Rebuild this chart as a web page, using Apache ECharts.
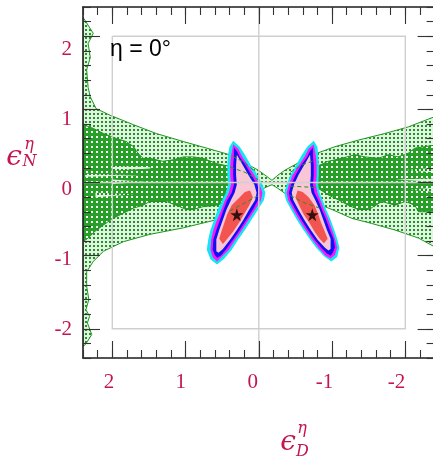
<!DOCTYPE html>
<html>
<head>
<meta charset="utf-8">
<script src="https://cdn.jsdelivr.net/npm/echarts@6/dist/echarts.min.js"></script>
<style>
  html, body { margin: 0; padding: 0; background: #ffffff; }
  #chart { width: 433px; height: 459px; }
</style>
</head>
<body>
<div id="chart"></div>
<script>
// ---- axes ----
const axisRange = [-2.4, 2.4];
const tickValues = [-2, -1, 0, 1, 2];
const panelLabel = 'η = 0°';

// ---- allowed regions (epsilon_D, epsilon_N) ----
// wide band, lighter shading
const outerBand = [
  [2.4, 2.26], [2.26, 2.04], [2.33, 1.90], [2.30, 1.71], [2.35, 1.54], [2.33, 1.30], [2.30, 1.17],
  [2.22, 1.01], [2.03, 0.92], [1.71, 0.79], [1.40, 0.67], [1.03, 0.56], [0.71, 0.47], [0.40, 0.38],
  [0.19, 0.27], [0.01, 0.17], [-0.10, 0.09], [-0.18, 0.03], [-0.26, 0.10], [-0.36, 0.17], [-0.56, 0.28],
  [-0.74, 0.38], [-1.04, 0.49], [-1.36, 0.58], [-1.72, 0.67], [-2.04, 0.76], [-2.4, 0.90],
  [-2.4, -0.88], [-2.18, -0.76], [-1.86, -0.65], [-1.54, -0.56], [-1.27, -0.49], [-1.00, -0.37],
  [-0.77, -0.28], [-0.56, -0.20], [-0.36, -0.15], [-0.26, -0.08], [-0.18, -0.03], [-0.11, -0.06],
  [0.01, -0.12], [0.19, -0.24], [0.40, -0.43], [0.58, -0.51], [1.03, -0.62], [1.49, -0.71],
  [1.85, -0.81], [2.12, -0.94], [2.26, -1.08], [2.35, -1.22], [2.35, -1.42], [2.32, -1.60],
  [2.36, -1.74], [2.31, -1.83], [2.34, -1.92], [2.28, -2.08], [2.37, -2.22], [2.4, -2.24]
];
// narrow band, darker shading
const coreBandLeft = [
  [2.4, 0.79], [2.26, 0.74], [2.12, 0.67], [1.94, 0.60], [1.81, 0.56], [1.71, 0.49], [1.65, 0.40],
  [1.58, 0.33], [1.49, 0.33], [1.31, 0.29], [1.17, 0.31], [1.03, 0.35], [0.90, 0.35], [0.76, 0.33],
  [0.58, 0.26], [0.40, 0.22], [0.26, 0.14], [0.23, -0.03], [0.26, -0.21], [0.40, -0.26], [0.58, -0.31],
  [0.76, -0.33], [0.90, -0.37], [0.99, -0.37], [1.08, -0.33], [1.26, -0.26], [1.49, -0.26],
  [1.58, -0.31], [1.71, -0.35], [1.85, -0.42], [1.99, -0.49], [2.12, -0.58], [2.24, -0.67],
  [2.33, -0.76], [2.4, -0.81]
];
const coreBandRight = [
  [-0.63, 0.14], [-0.79, 0.22], [-0.95, 0.29], [-1.13, 0.33], [-1.31, 0.38], [-1.45, 0.35],
  [-1.63, 0.33], [-1.77, 0.38], [-1.90, 0.35], [-2.04, 0.40], [-2.13, 0.47], [-2.27, 0.49],
  [-2.4, 0.51], [-2.4, -0.40], [-2.27, -0.40], [-2.18, -0.40], [-2.13, -0.31], [-2.00, -0.26],
  [-1.86, -0.31], [-1.68, -0.26], [-1.50, -0.37], [-1.36, -0.37], [-1.22, -0.31], [-1.09, -0.24],
  [-0.95, -0.17], [-0.81, -0.08], [-0.63, -0.03]
];
// thin slivers of the wide band cutting into the narrow one
const coreGaps = [
  [[2.00, 0.23], [1.48, 0.21], [1.48, 0.19], [2.00, 0.16]],
  [[2.37, 0.12], [1.62, 0.10], [2.37, 0.08]],
  [[2.00, 0.04], [1.55, 0.01], [2.00, -0.02]],
  [[2.23, -0.14], [1.69, -0.16], [2.23, -0.20]],
  [[-2.4, 0.20], [-2.00, 0.17], [-2.4, 0.14]],
  [[-2.4, 0.06], [-1.86, 0.04], [-2.4, 0.01]],
  [[-2.4, -0.07], [-2.06, -0.10], [-2.4, -0.13]]
];

// ---- fit contours, left solution ----
const leftCyan = [[0.35,0.57],[0.26,0.49],[0.19,0.38],[0.11,0.24],[0.02,0.10],[-0.05,-0.03],[-0.09,-0.14],[-0.07,-0.24],[0.01,-0.37],[0.10,-0.51],[0.19,-0.65],[0.28,-0.78],[0.37,-0.92],[0.47,-1.04],[0.57,-1.12],[0.66,-1.05],[0.71,-0.92],[0.69,-0.78],[0.66,-0.65],[0.61,-0.51],[0.56,-0.37],[0.50,-0.24],[0.45,-0.14],[0.42,-0.03],[0.43,0.10],[0.43,0.24],[0.42,0.38],[0.40,0.49]];
const leftMagenta = [[0.35,0.52],[0.28,0.46],[0.23,0.36],[0.15,0.24],[0.06,0.10],[-0.01,-0.03],[-0.05,-0.14],[-0.03,-0.24],[0.05,-0.37],[0.14,-0.51],[0.23,-0.65],[0.32,-0.78],[0.41,-0.92],[0.51,-1.02],[0.57,-1.08],[0.63,-1.02],[0.66,-0.92],[0.65,-0.78],[0.62,-0.65],[0.57,-0.51],[0.51,-0.37],[0.46,-0.24],[0.41,-0.14],[0.38,-0.03],[0.39,0.10],[0.39,0.24],[0.38,0.36],[0.36,0.46]];
const leftBlue = [[0.34,0.48],[0.30,0.43],[0.26,0.35],[0.18,0.24],[0.10,0.10],[0.02,-0.03],[-0.01,-0.14],[0.01,-0.24],[0.08,-0.37],[0.17,-0.51],[0.26,-0.65],[0.35,-0.78],[0.45,-0.92],[0.52,-1.00],[0.57,-1.03],[0.60,-0.99],[0.63,-0.92],[0.62,-0.78],[0.58,-0.65],[0.53,-0.51],[0.48,-0.37],[0.43,-0.24],[0.37,-0.14],[0.34,-0.03],[0.35,0.10],[0.35,0.24],[0.34,0.35],[0.34,0.43]];
const leftPink = [[0.30,0.38],[0.22,0.24],[0.14,0.10],[0.06,-0.03],[0.03,-0.14],[0.05,-0.24],[0.13,-0.37],[0.21,-0.51],[0.30,-0.65],[0.39,-0.78],[0.49,-0.91],[0.55,-0.96],[0.58,-0.94],[0.58,-0.78],[0.54,-0.65],[0.49,-0.51],[0.44,-0.37],[0.38,-0.24],[0.33,-0.14],[0.30,-0.03],[0.31,0.10],[0.31,0.24]];
const leftRed = [[0.12,-0.11],[0.08,-0.20],[0.13,-0.31],[0.20,-0.43],[0.27,-0.55],[0.35,-0.67],[0.43,-0.77],[0.49,-0.84],[0.54,-0.77],[0.51,-0.67],[0.47,-0.55],[0.43,-0.43],[0.37,-0.31],[0.26,-0.20],[0.19,-0.13]];

// ---- fit contours, right solution ----
const rightCyan = [[-0.75,0.57],[-0.66,0.49],[-0.59,0.38],[-0.51,0.24],[-0.43,0.10],[-0.38,-0.03],[-0.35,-0.14],[-0.37,-0.24],[-0.44,-0.37],[-0.52,-0.51],[-0.61,-0.65],[-0.70,-0.78],[-0.79,-0.90],[-0.89,-1.01],[-0.99,-1.08],[-1.07,-1.02],[-1.10,-0.89],[-1.07,-0.77],[-1.03,-0.65],[-0.98,-0.51],[-0.92,-0.37],[-0.87,-0.24],[-0.83,-0.14],[-0.81,-0.03],[-0.82,0.10],[-0.82,0.24],[-0.81,0.38],[-0.80,0.49]];
const rightMagenta = [[-0.75,0.52],[-0.68,0.46],[-0.63,0.36],[-0.55,0.24],[-0.46,0.10],[-0.41,-0.03],[-0.38,-0.14],[-0.40,-0.24],[-0.47,-0.37],[-0.55,-0.51],[-0.64,-0.65],[-0.73,-0.78],[-0.82,-0.90],[-0.91,-1.00],[-0.98,-1.04],[-1.04,-0.99],[-1.07,-0.89],[-1.04,-0.77],[-1.00,-0.65],[-0.95,-0.51],[-0.89,-0.37],[-0.84,-0.24],[-0.80,-0.14],[-0.78,-0.03],[-0.79,0.10],[-0.79,0.24],[-0.78,0.36],[-0.76,0.46]];
const rightBlue = [[-0.74,0.48],[-0.70,0.43],[-0.66,0.35],[-0.58,0.24],[-0.50,0.10],[-0.44,-0.03],[-0.41,-0.14],[-0.43,-0.24],[-0.50,-0.37],[-0.58,-0.51],[-0.67,-0.65],[-0.76,-0.78],[-0.86,-0.90],[-0.93,-0.97],[-0.98,-1.00],[-1.01,-0.96],[-1.04,-0.89],[-1.02,-0.77],[-0.97,-0.65],[-0.92,-0.51],[-0.86,-0.37],[-0.81,-0.24],[-0.76,-0.14],[-0.74,-0.03],[-0.75,0.10],[-0.75,0.24],[-0.74,0.35],[-0.74,0.43]];
const rightPink = [[-0.70,0.38],[-0.62,0.24],[-0.54,0.10],[-0.48,-0.03],[-0.45,-0.14],[-0.47,-0.24],[-0.54,-0.37],[-0.62,-0.51],[-0.71,-0.65],[-0.80,-0.78],[-0.90,-0.89],[-0.95,-0.93],[-0.98,-0.91],[-0.98,-0.77],[-0.93,-0.65],[-0.88,-0.51],[-0.83,-0.37],[-0.77,-0.24],[-0.72,-0.14],[-0.70,-0.03],[-0.71,0.10],[-0.71,0.24]];
const rightRed = [[-0.53,-0.11],[-0.50,-0.20],[-0.55,-0.31],[-0.61,-0.43],[-0.69,-0.55],[-0.76,-0.67],[-0.83,-0.77],[-0.89,-0.83],[-0.94,-0.77],[-0.90,-0.67],[-0.85,-0.55],[-0.81,-0.43],[-0.76,-0.31],[-0.68,-0.20],[-0.60,-0.13]];

// band edges continuing across the fit contours (dashed)
const hiddenEdges = [
  [[0.36, 0.36], [0.19, 0.27], [0.04, 0.14]],
  [[0.39, 0.21], [0.19, 0.14], [0.01, 0.04]],
  [[0.01, -0.18], [0.19, -0.28], [0.42, -0.40]],
  [[-0.43, 0.14], [-0.59, 0.24], [-0.78, 0.31]],
  [[-0.43, -0.05], [-0.63, -0.06], [-0.81, -0.07]],
  [[-0.43, -0.18], [-0.63, -0.28], [-0.86, -0.36]]
];

// best-fit points
const bestFit = [[0.30, -0.44], [-0.73, -0.44]];

// reference frame
const refBox = [[2, 2], [-2, 2], [-2, -2], [2, -2], [2, 2]];
const zeroD = [[0, -2.4], [0, 2.4]];
const zeroN = [[-2.4, 0], [2.4, 0]];

// ---- styling ----
const labelColor = '#c4154f';
const green = '#1f961f';

function tile(size, bg, dotColor, dot) {
  const c = document.createElement('canvas');
  c.width = size; c.height = size;
  const g = c.getContext('2d');
  if (bg) { g.fillStyle = bg; g.fillRect(0, 0, size, size); }
  g.fillStyle = dotColor;
  g.fillRect(1, 1, dot, dot);
  return c;
}
const lightFill = { image: tile(4, 'rgba(40,160,40,0.13)', green, 2), repeat: 'repeat' };
const lightFillOpaque = { image: tile(4, '#e2f1e2', green, 2), repeat: 'repeat' };
const darkFill = { image: tile(5, '#26a026', '#ffffff', 2), repeat: 'repeat' };

let zCounter = 1;
function polygonSeries(pts, style) {
  return {
    type: 'custom', coordinateSystem: 'cartesian2d', xAxisIndex: 0, yAxisIndex: 0,
    clip: true, silent: true, z: zCounter++, animation: false,
    data: [pts[0]],
    renderItem: (params, api) => ({
      type: 'polygon',
      shape: { points: pts.map(p => api.coord(p)) },
      style: style
    })
  };
}
function polylineSeries(pts, style) {
  return {
    type: 'custom', coordinateSystem: 'cartesian2d', xAxisIndex: 0, yAxisIndex: 0,
    clip: true, silent: true, z: zCounter++, animation: false,
    data: [pts[0]],
    renderItem: (params, api) => ({
      type: 'polyline',
      shape: { points: pts.map(p => api.coord(p)) },
      style: Object.assign({ fill: null }, style)
    })
  };
}

const series = [];
series.push(polygonSeries(outerBand, { fill: lightFill, stroke: green, lineWidth: 1 }));
series.push(polygonSeries(coreBandLeft, { fill: darkFill, stroke: green, lineWidth: 1 }));
series.push(polygonSeries(coreBandRight, { fill: darkFill, stroke: green, lineWidth: 1 }));
coreGaps.forEach(g => series.push(polygonSeries(g, { fill: lightFillOpaque, stroke: null })));

const layerColors = ['#11e6f2', '#ff14ff', '#1010f5', '#f9c6d6', '#f2544f'];
[leftCyan, leftMagenta, leftBlue, leftPink, leftRed].forEach((p, i) =>
  series.push(polygonSeries(p, { fill: layerColors[i], stroke: null })));
[rightCyan, rightMagenta, rightBlue, rightPink, rightRed].forEach((p, i) =>
  series.push(polygonSeries(p, { fill: layerColors[i], stroke: null })));

hiddenEdges.forEach(e => series.push(polylineSeries(e, { stroke: green, lineWidth: 1, lineDash: [4, 3] })));

const frameStyle = { stroke: '#cfcfcf', lineWidth: 1.4 };
series.push(polylineSeries(refBox, frameStyle));
series.push(polylineSeries(zeroD, frameStyle));
series.push(polylineSeries(zeroN, frameStyle));

series.push({
  type: 'scatter', xAxisIndex: 0, yAxisIndex: 0, z: 60, silent: true, animation: false,
  symbol: 'path://M50,0 L61,35 L98,35 L68,57 L79,91 L50,70 L21,91 L32,57 L2,35 L39,35 Z',
  symbolSize: 13,
  itemStyle: { color: '#000000' },
  data: bestFit
});

// ---- axes ----
const lineCol = '#1c1c1c';
function frameAxis(position, inverse, major) {
  const ax = {
    type: 'value', position, min: axisRange[0], max: axisRange[1], inverse, z: 50,
    axisLine: { show: major, onZero: false, lineStyle: { color: lineCol, width: 1.6 } },
    axisTick: { show: true, inside: true, length: major ? 17 : 8, lineStyle: { color: '#333333', width: 1.1 } },
    axisLabel: { show: false },
    splitLine: { show: false }
  };
  if (major) { ax.axisTick.customValues = tickValues; ax.splitNumber = 5; }
  else { ax.interval = 0.2; }
  return ax;
}
function labelAxis(position, min, max, inverse, margin) {
  return {
    type: 'value', position, min, max, inverse, z: 50,
    axisLine: { show: false }, axisTick: { show: false }, splitLine: { show: false },
    axisLabel: {
      show: true, customValues: tickValues, margin,
      color: labelColor, fontFamily: 'Liberation Serif', fontSize: 21,
      showMinLabel: true, showMaxLabel: true
    }
  };
}

const nameFont = 'italic 28px "DejaVu Serif"';
const scriptFont = 'italic 16px "DejaVu Serif"';
function mathText(x, y, text, font) {
  return { type: 'text', x, y, z: 100, silent: true,
    style: { text, font, fill: labelColor, textAlign: 'center', textVerticalAlign: 'middle', align: 'center', verticalAlign: 'middle' } };
}

const chart = echarts.init(document.getElementById('chart'), null, { renderer: 'canvas' });
chart.setOption({
  animation: false,
  backgroundColor: '#ffffff',
  grid: { left: 83, top: 7, width: 351.6, height: 351, containLabel: false, outerBoundsMode: 'none' },
  xAxis: [
    frameAxis('bottom', true, true),
    frameAxis('bottom', true, false),
    frameAxis('top', true, true),
    frameAxis('top', true, false),
    labelAxis('bottom', -2.53, 2.36, true, 14)
  ],
  yAxis: [
    frameAxis('left', false, true),
    frameAxis('left', false, false),
    frameAxis('right', false, true),
    frameAxis('right', false, false),
    labelAxis('left', -2.40, 2.60, false, 11)
  ],
  series: series,
  graphic: [
    { type: 'text', x: 110, y: 49.5, z: 100, silent: true,
      style: { text: panelLabel, font: '23px "Liberation Sans"', fill: '#000000', textAlign: 'left', textVerticalAlign: 'middle', align: 'left', verticalAlign: 'middle' } },
    mathText(14, 157.5, 'ϵ', nameFont),
    mathText(29, 144.5, 'η', scriptFont),
    mathText(29.5, 162, 'N', scriptFont),
    mathText(288, 442.5, 'ϵ', nameFont),
    mathText(302, 429, 'η', scriptFont),
    mathText(302.5, 451.5, 'D', scriptFont)
  ]
});
</script>
</body>
</html>
